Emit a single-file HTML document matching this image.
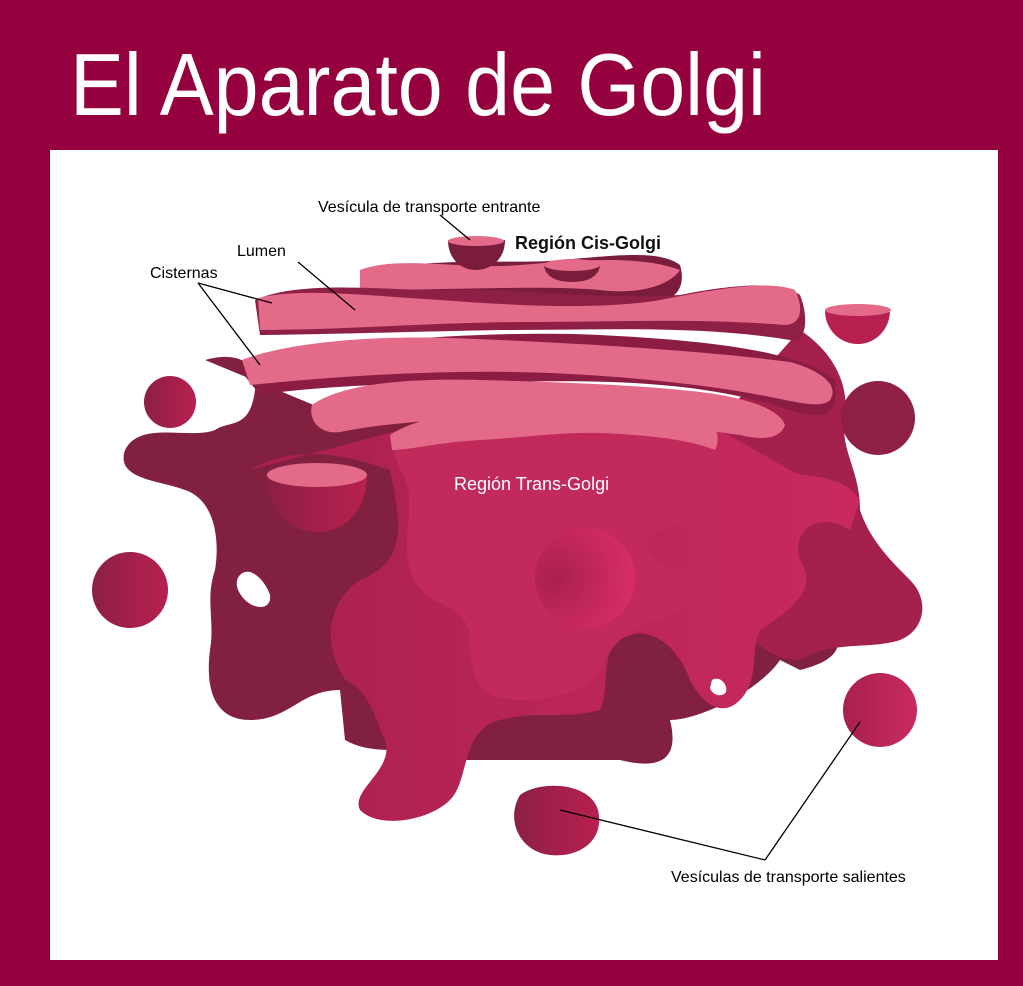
<!DOCTYPE html>
<html><head><meta charset="utf-8"><style>
html,body{margin:0;padding:0;background:#95003f;}
svg{display:block}
</style></head><body>
<svg width="1023" height="986" viewBox="0 0 1023 986" xmlns="http://www.w3.org/2000/svg">
<defs>
<linearGradient id="g1" x1="0" x2="1"><stop offset="0" stop-color="#a8204f"/><stop offset="1" stop-color="#c92a5e"/></linearGradient>
<linearGradient id="g2" x1="0" x2="1"><stop offset="0" stop-color="#8c1f45"/><stop offset="1" stop-color="#b8204f"/></linearGradient>
<radialGradient id="rg" cx="0.2" cy="0.5" r="0.9"><stop offset="0" stop-color="#a8204f"/><stop offset="1" stop-color="#de2f67"/></radialGradient>
</defs>
<rect width="1023" height="986" fill="#95003f"/>
<text x="70" y="115" font-family="Liberation Sans, sans-serif" font-size="88" fill="#fff" textLength="696" lengthAdjust="spacingAndGlyphs">El Aparato de Golgi</text>
<rect x="50" y="150" width="948" height="810" fill="#fff"/>

<!-- outer dark body -->
<path fill="#82203f" d="M205,360 C240,350 260,365 255,390 C250,430 230,420 215,430 C190,440 140,420 125,450 C115,480 160,480 185,490 C215,500 220,540 215,570 C205,600 215,620 210,650 C205,690 215,720 250,720 C290,720 300,690 340,690 L345,740 C380,760 420,740 460,760 L620,760 C660,770 680,760 670,720 C700,720 760,690 780,660 L800,670 C840,660 860,640 800,600 L760,520 L700,450 L600,420 L350,420 Z"/>
<path fill="#a3214c" d="M800,330 C830,350 850,380 845,420 C840,450 860,470 860,510 C870,540 890,560 910,580 C930,600 925,630 900,640 C870,650 830,640 800,660 C770,660 750,640 740,620 L700,520 L720,420 Z"/>
<!-- main mid body -->
<path fill="url(#g1)" d="M250,470 C300,440 360,460 390,470 C400,520 410,560 360,580 C330,600 320,640 345,680 C370,690 375,720 385,740 C395,770 350,790 360,810 C380,830 430,820 450,800 C470,780 460,730 500,720 C540,710 560,720 600,710 C610,690 600,650 620,640 C650,620 680,650 690,680 C700,700 720,720 740,700 C760,680 750,650 760,630 C790,610 820,590 800,560 C790,530 820,510 850,530 L860,500 C840,470 800,480 790,470 L720,430 L560,420 L400,430 Z"/>
<path fill="#c22a5c" d="M390,440 C420,420 520,410 600,420 C680,420 720,440 720,460 C720,500 700,520 660,530 C640,540 640,560 680,570 C700,580 690,610 660,620 C620,630 610,650 600,670 C590,690 560,700 520,700 C480,700 470,680 470,640 C470,600 420,610 410,570 C400,530 420,500 400,470 Z"/>
<!-- mid dark lumen layers -->
<path fill="#8b1d45" d="M240,370 C300,340 500,330 600,335 C700,340 800,350 835,380 C840,420 820,420 790,410 C700,380 600,380 500,382 C420,383 320,385 260,395 Z"/>
<!-- cisternae -->
<path fill="#7a1d3c" d="M360,275 C420,255 520,265 560,260 C620,255 660,250 680,265 C690,300 660,310 600,310 C520,310 420,305 360,300 Z"/>
<path fill="#e46a8a" d="M360,270 C400,255 460,270 520,265 C580,260 640,255 680,270 C670,285 640,295 600,290 C540,285 460,290 360,290 Z"/>
<path fill="#8e1f45" d="M255,300 C300,280 380,290 440,290 C520,288 600,300 680,295 C730,285 780,280 800,295 C810,320 805,345 790,340 C700,325 600,330 500,330 C400,332 300,335 260,335 Z"/>
<path fill="#e46a8a" d="M258,298 C300,288 360,295 440,300 C520,306 600,310 660,300 C720,288 770,280 795,290 C805,310 800,325 785,325 C700,318 620,322 520,322 C420,323 340,330 260,330 Z"/>
<path fill="#e46a8a" d="M242,360 C280,345 360,335 450,338 C560,342 700,350 790,362 C820,370 840,385 830,400 C820,410 790,400 760,395 C680,380 560,370 460,372 C380,373 300,380 250,385 Z"/>
<path fill="#e46a8a" d="M312,405 C340,385 400,378 480,380 C560,382 640,385 700,392 C750,398 780,410 785,425 C780,440 760,440 740,435 C690,428 640,420 560,418 C480,417 400,420 340,432 C320,435 308,420 312,405 Z"/>
<path fill="#e46a8a" d="M390,435 C420,415 480,408 540,410 C600,412 650,415 700,420 C720,425 720,440 715,450 C690,440 650,435 600,433 C560,432 520,438 480,440 C440,442 410,450 392,450 Z"/>
<!-- floating vesicles -->
<path fill="#7a1d3c" d="M448,240 L505,240 C505,260 490,270 476,270 C460,270 448,258 448,240 Z"/>
<ellipse cx="476" cy="241" rx="28" ry="5" fill="#e46a8a"/>
<path fill="#7a1d3c" d="M544,264 L600,264 C600,275 590,282 572,282 C554,282 544,275 544,264 Z"/>
<ellipse cx="572" cy="265" rx="28" ry="6" fill="#e46a8a"/>
<path fill="#b8204f" d="M825,310 L890,310 C890,330 875,344 858,344 C840,344 825,330 825,310 Z"/>
<ellipse cx="858" cy="310" rx="33" ry="6" fill="#e46a8a"/>
<path fill="url(#g2)" d="M267,475 L367,475 C367,510 345,532 317,532 C289,532 267,510 267,475 Z"/>
<ellipse cx="317" cy="475" rx="50" ry="12" fill="#e46a8a"/>
<circle cx="170" cy="402" r="26" fill="url(#g2)"/>
<circle cx="878" cy="418" r="37" fill="#8e1f45"/>
<circle cx="130" cy="590" r="38" fill="url(#g2)"/>
<circle cx="880" cy="710" r="37" fill="url(#g1)"/>
<circle cx="585" cy="578" r="50" fill="url(#rg)"/>
<path fill="url(#g2)" d="M520,795 C540,780 590,782 598,810 C605,840 580,858 550,855 C520,852 505,820 520,795 Z"/>
<path fill="#fff" d="M240,575 C250,565 265,580 270,595 C272,610 255,610 245,600 C235,590 235,580 240,575 Z"/>
<path fill="#fff" d="M712,680 C720,675 728,685 726,692 C722,698 712,695 710,688 Z"/>
<!-- leader lines -->
<g stroke="#000" stroke-width="1.3" fill="none">
<line x1="440" y1="215" x2="470" y2="240"/>
<line x1="298" y1="262" x2="355" y2="310"/>
<line x1="198" y1="283" x2="272" y2="303"/>
<line x1="198" y1="283" x2="260" y2="365"/>
<line x1="560" y1="810" x2="765" y2="860"/>
<line x1="765" y1="860" x2="860" y2="722"/>
</g>
<g font-family="Liberation Sans, sans-serif" fill="#000" font-size="16">
<text x="318" y="212">Vesícula de transporte entrante</text>
<text x="237" y="256">Lumen</text>
<text x="150" y="278">Cisternas</text>
<text x="515" y="249" font-size="18" font-weight="bold" fill="#111">Región Cis-Golgi</text>
<text x="671" y="882">Vesículas de transporte salientes</text>
<text x="454" y="490" font-size="18" fill="#fff">Región Trans-Golgi</text>
</g>
</svg>
</body></html>
